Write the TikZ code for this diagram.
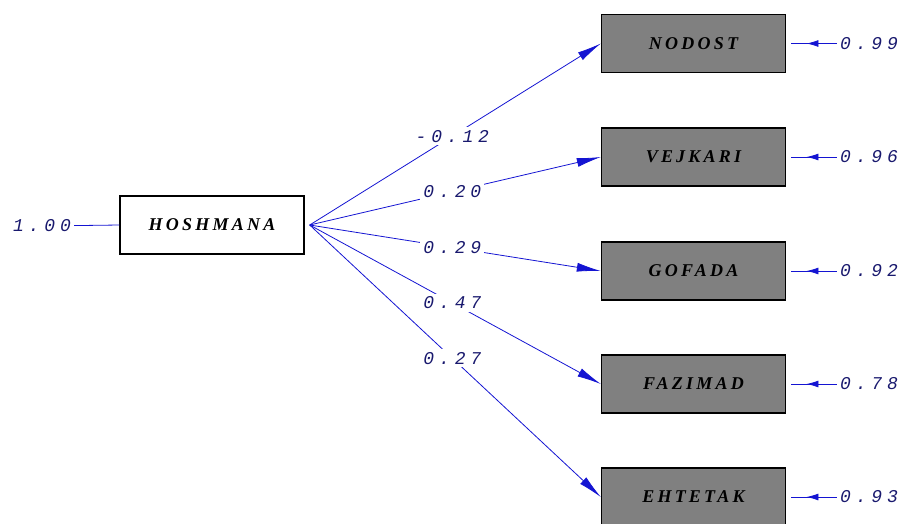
\documentclass[tikz,border=0pt]{standalone}
\usepackage{fontspec}
\usetikzlibrary{arrows.meta,decorations.markings}
\newfontfamily\numfont[LetterSpace=27]{Liberation Mono}
\newfontfamily\varfont[LetterSpace=18]{Liberation Serif}
\definecolor{pathblue}{RGB}{20,20,210}
\definecolor{numblue}{RGB}{25,25,110}
\definecolor{obsgray}{RGB}{128,128,128}
\tikzset{
  latentbox/.style={draw=black,line width=1.4pt,fill=white,minimum width=184pt,minimum height=58pt,font=\varfont\bfseries\itshape\fontsize{18}{18}\selectfont},
  obsbox/.style={latentbox,fill=obsgray},
  coef/.style={font=\numfont\itshape\fontsize{18}{18}\selectfont,text=numblue,inner sep=3pt},
  pathline/.style={draw=pathblue,line width=0.8pt},
  loading/.style={pathline,-{Latex[length=24pt,width=9pt]}},
  errline/.style={pathline,shorten >=5pt,postaction={decorate},
    decoration={markings,mark=at position 0.6 with {\arrow{Latex[length=12pt,width=7pt]}}}}
}
\begin{document}
\begin{tikzpicture}[x=1pt,y=-1pt]
  \useasboundingbox (0,0) rectangle (901,523);
  \node[latentbox] (hosh) at (212,225) {HOSHMANA};
  \node[coef] (var) at (42,226) {1.00};
  \draw[pathline] (var) -- (hosh.west);
  \coordinate (src) at ([xshift=5pt]hosh.east);
  \foreach \name/\y/\lam/\err [count=\i] in {NODOST/43.5/-0.12/0.99, VEJKARI/157/0.20/0.96,
      GOFADA/271/0.29/0.92, FAZIMAD/384/0.47/0.78, EHTETAK/497/0.27/0.93} {
    \node[obsbox] (obs\i) at (693.5,\y) {\name};
    \node[coef] (err\i) at (869,\y) {\err};
    \draw[loading] (src) -- node[coef,pos=0.49,fill=white] {\lam} (obs\i.west);
    \draw[errline] (err\i.west) -- (obs\i.east);
  }
\end{tikzpicture}
\end{document}
